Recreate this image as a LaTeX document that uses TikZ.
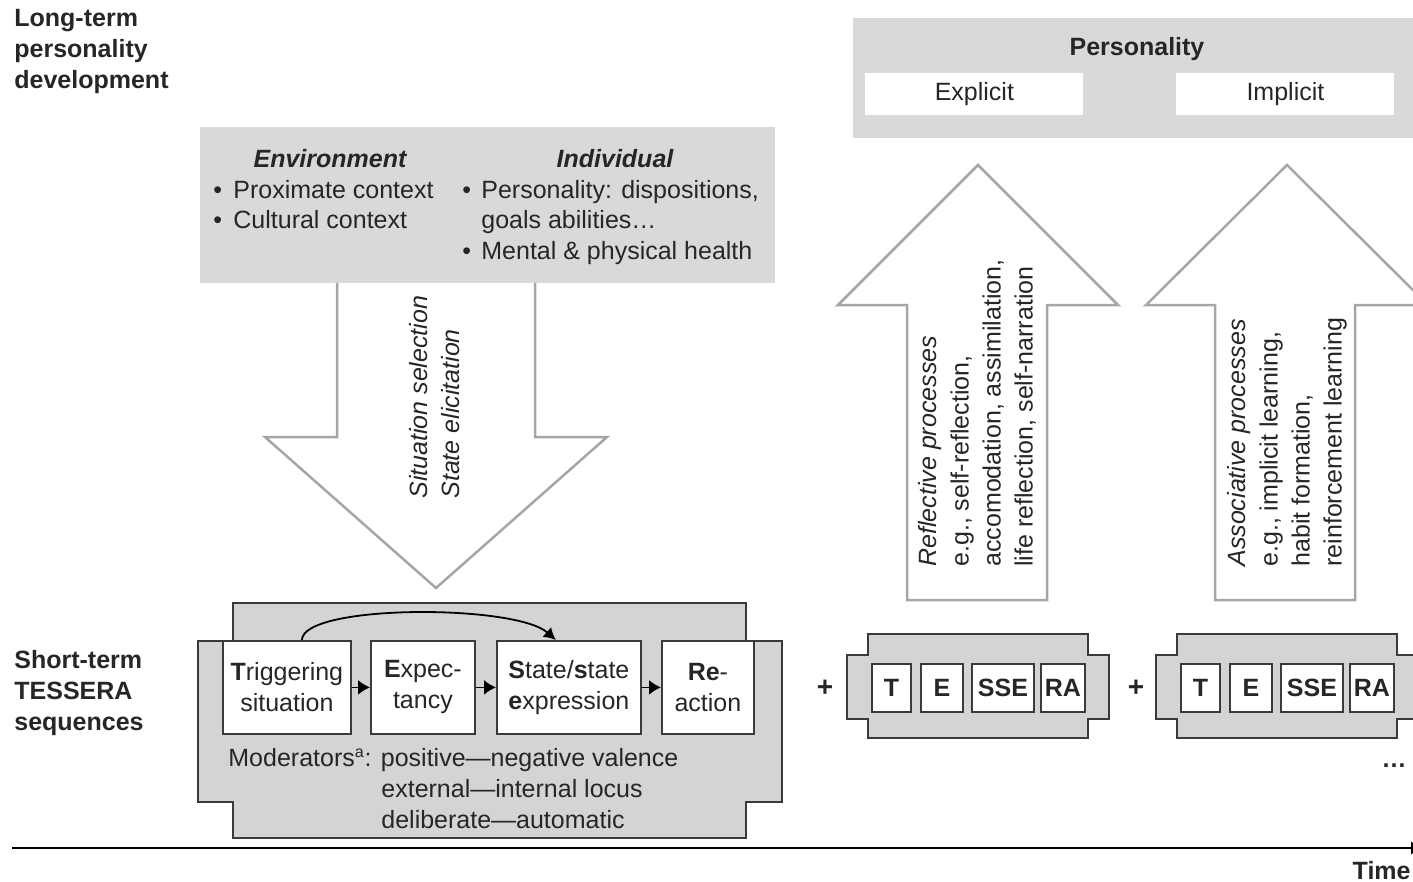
\documentclass[tikz,border=0pt]{standalone}
\usepackage{fontspec}
\setmainfont{Liberation Sans}
\usetikzlibrary{arrows.meta}
\definecolor{boxgray}{HTML}{D9D9D9}
\definecolor{shapegray}{HTML}{D4D4D4}
\definecolor{arrowgray}{HTML}{A6A6A6}
\definecolor{txtc}{HTML}{262626}
\definecolor{edgec}{HTML}{3A3A3A}
\begin{document}
\begin{tikzpicture}[x=0.5pt,y=-0.5pt,
  every node/.style={font=\fontsize{12.5}{15.5}\selectfont, text=txtc, inner sep=0pt},
  lbl/.style={font=\fontsize{12.5}{15.5}\selectfont\bfseries, align=left, anchor=north west},
  graybox/.style={fill=boxgray, draw=none},
  bigarrow/.style={fill=white, draw=arrowgray, line width=1.25pt, line join=miter},
  tshape/.style={fill=shapegray, draw=edgec, line width=0.9pt},
  stepbox/.style={fill=white, draw=edgec, line width=0.9pt, anchor=north west, align=center, minimum height=46.5pt},
  minibox/.style={fill=white, draw=edgec, line width=0.9pt, anchor=north west, minimum height=24pt, font=\fontsize{12.5}{15}\selectfont\bfseries},
  rottxt/.style={rotate=90, anchor=north west, align=left, font=\fontsize{12.5}{16}\selectfont},
  seq/.style={-{Latex[length=6pt,width=7.5pt]}, line width=0.9pt, draw=black}
]
\useasboundingbox (0,0) rectangle (1413,882);

% left labels
\node[lbl] (longterm) at (14,9) {Long-term\\personality\\development};
\node[lbl] (shortterm) at (14,650) {Short-term\\TESSERA\\sequences};

% environment / individual box
\node[graybox, anchor=north west, minimum width=287.5pt, minimum height=78pt] (envbox) at (200,127) {};
\node[anchor=base, font=\fontsize{12.5}{15.5}\selectfont\bfseries\itshape] (envt) at (330,168) {Environment};
\node[anchor=base, font=\fontsize{12.5}{15.5}\selectfont\bfseries\itshape] (indt) at (615,168) {Individual};
\node[anchor=base west] (b1) at (213,199) {•};
\node[anchor=base west] (e1) at (233,199) {Proximate context};
\node[anchor=base west] (b2) at (213,229) {•};
\node[anchor=base west] (e2) at (233,229) {Cultural context};
\node[anchor=base west] (b3) at (462,199) {•};
\node[anchor=base west] (i1) at (481,199) {Personality: dispositions,};
\node[anchor=base west] (i2) at (481,229) {goals abilities…};
\node[anchor=base west] (b4) at (462,260) {•};
\node[anchor=base west] (i3) at (481,260) {Mental \& physical health};

% down arrow
\path[bigarrow] (337,283) -- (337,437) -- (265,437) -- (436,588) -- (607,437) -- (535,437) -- (535,283);
\node[rottxt, font=\fontsize{12.5}{16}\selectfont\itshape] (downtxt) at (409,499) {Situation selection\\State elicitation};

% personality box
\node[graybox, anchor=north west, minimum width=280pt, minimum height=60pt] (persbox) at (853,18) {};
\node[anchor=base, font=\fontsize{12.5}{15.5}\selectfont\bfseries] (perst) at (1137,56) {Personality};
\node[fill=white, anchor=north west, minimum width=109pt, minimum height=21pt] (explicit) at (865,73) {Explicit};
\node[fill=white, anchor=north west, minimum width=109pt, minimum height=21pt] (implicit) at (1176,73) {Implicit};

% up arrows
\path[bigarrow] (907,600) -- (907,305) -- (838,305) -- (978,165) -- (1118,305) -- (1047,305) -- (1047,600) -- cycle;
\node[rottxt] (refltxt) at (918,567) {\textit{Reflective processes}\\e.g., self-reflection,\\accomodation, assimilation,\\life reflection, self-narration};
\path[bigarrow] (1215,600) -- (1215,305) -- (1146,305) -- (1287,165) -- (1428,305) -- (1355,305) -- (1355,600) -- cycle;
\node[rottxt] (assotxt) at (1227,567) {\textit{Associative processes}\\e.g., implicit learning,\\habit formation,\\reinforcement learning};

% main TESSERA sequence
\path[tshape] (233,603) -- (746,603) -- (746,641) -- (782,641) -- (782,802) -- (746,802) -- (746,838) -- (233,838) -- (233,802) -- (198,802) -- (198,641) -- (233,641) -- cycle;
\node[stepbox, minimum width=64pt] (trig) at (222,640) {\textbf{T}riggering\\situation};
\node[stepbox, minimum width=52pt] (expc) at (370,640) {\textbf{E}xpec-\\tancy};
\node[stepbox, minimum width=72pt] (sse) at (496,640) {\textbf{S}tate/\textbf{s}tate\\\textbf{e}xpression};
\node[stepbox, minimum width=46pt] (react) at (661,640) {\textbf{Re}-\\action};
\draw[seq] (trig.east) -- (expc.west);
\draw[seq] (expc.east) -- (sse.west);
\draw[seq] (sse.east) -- (react.west);
\draw[-{Latex[length=6pt,width=6.5pt]}, line width=0.9pt] ([xshift=7.5pt]trig.north) .. controls (303,604) and (515,604) .. ([xshift=-6.5pt]sse.north);
\node[anchor=base west] (mod1) at (228,766) {Moderators\textsuperscript{\fontsize{8}{9}\selectfont a}: positive—negative valence};
\node[anchor=base west] (mod2) at (381,797) {external—internal locus};
\node[anchor=base west] (mod3) at (381,828) {deliberate—automatic};

% small sequences
\node[font=\fontsize{14}{15}\selectfont\bfseries] (plus1) at (825,688) {+};
\path[tshape] (868,634) -- (1088,634) -- (1088,655) -- (1109,655) -- (1109,719) -- (1088,719) -- (1088,738) -- (868,738) -- (868,719) -- (847,719) -- (847,655) -- (868,655) -- cycle;
\node[minibox, minimum width=19.5pt] (t1) at (871,663) {T};
\node[minibox, minimum width=21pt] (e1b) at (920,663) {E};
\node[minibox, minimum width=31pt] (s1) at (971,663) {SSE};
\node[minibox, minimum width=22pt] (r1) at (1040,663) {RA};

\node[font=\fontsize{14}{15}\selectfont\bfseries] (plus2) at (1136,688) {+};
\path[tshape] (1177,634) -- (1397,634) -- (1397,655) -- (1418,655) -- (1418,719) -- (1397,719) -- (1397,738) -- (1177,738) -- (1177,719) -- (1156,719) -- (1156,655) -- (1177,655) -- cycle;
\node[minibox, minimum width=19.5pt] (t2) at (1180,663) {T};
\node[minibox, minimum width=21pt] (e2b) at (1229,663) {E};
\node[minibox, minimum width=31pt] (s2) at (1280,663) {SSE};
\node[minibox, minimum width=22pt] (r2) at (1349,663) {RA};

\node[font=\fontsize{12.5}{15}\selectfont\bfseries] (dots) at (1394,766) {…};

% time axis
\coordinate (tstart) at (12,848);
\coordinate (tend) at (1421,848);
\draw[-{Latex[length=5pt,width=7pt]}, line width=1pt] (tstart) -- (tend);
\node[anchor=base east, font=\fontsize{12.5}{15}\selectfont\bfseries] (time) at (1411,879) {Time};
\end{tikzpicture}
\end{document}
